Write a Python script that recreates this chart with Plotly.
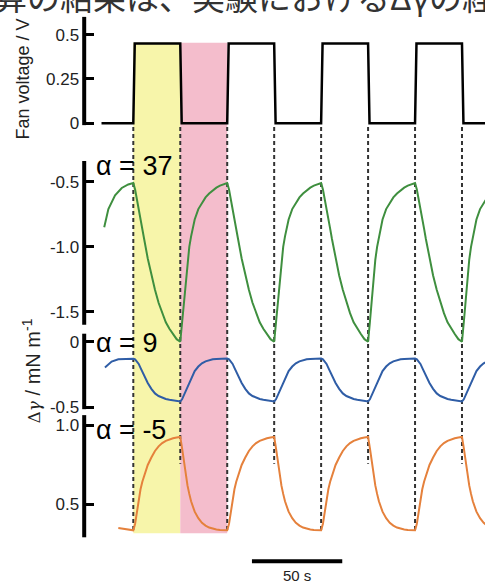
import plotly.graph_objects as go

W, H = 485, 584

# ---------------- data (time in s) ----------------
fan_t = [-17.6, 0, 0.8, 26, 26.8, 52, 52.8, 78, 78.8, 104, 104.8, 130, 130.8,
         156, 156.8, 182, 182.8, 196]
fan_v = [0, 0, 0.45, 0.45, 0, 0, 0.45, 0.45, 0, 0, 0.45, 0.45, 0, 0, 0.45, 0.45, 0, 0]

on_edges = [0, 52, 104, 156]
off_edges = [26, 78, 130, 182]

t_main = [0, 1, 2, 3, 4, 5, 6, 8, 10, 12, 14, 16, 18, 20, 22, 24,
          26, 27, 28, 29, 30, 31, 32, 34, 36, 38, 40, 42, 44, 46, 48, 50,
          52, 53, 54, 55, 56, 57, 58, 60, 62, 64, 66, 68, 70, 72, 74, 76,
          78, 79, 80, 81, 82, 83, 84, 86, 88, 90, 92, 94, 96, 98, 100, 102,
          104, 105, 106, 107, 108, 109, 110, 112, 114, 116, 118, 120, 122, 124, 126, 128,
          130, 131, 132, 133, 134, 135, 136, 138, 140, 142, 144, 146, 148, 150, 152, 154,
          156, 157, 158, 159, 160, 161, 162, 164, 166, 168, 170, 172, 174, 176, 178, 180,
          182, 183, 184, 185, 186, 187, 188, 190, 192, 194, 196]

# alpha = 37 (green)
g_lead_t = [-16.1, -13.8, -10.1, -6.4, -2.8]
g_lead_v = [-0.85, -0.71, -0.605, -0.548, -0.521]
g_main = [-0.51, -0.56, -0.63, -0.70, -0.78, -0.86, -0.94, -1.09, -1.22, -1.33, -1.43, -1.51, -1.58, -1.63, -1.67, -1.71,
          -1.73, -1.58, -1.40, -1.24, -1.10, -1.00, -0.92, -0.79, -0.71, -0.66, -0.62, -0.59, -0.565, -0.545, -0.53, -0.52,
          -0.51, -0.56, -0.63, -0.70, -0.78, -0.86, -0.94, -1.09, -1.22, -1.33, -1.43, -1.51, -1.58, -1.63, -1.67, -1.71,
          -1.73, -1.58, -1.40, -1.24, -1.10, -1.00, -0.92, -0.79, -0.71, -0.66, -0.62, -0.59, -0.565, -0.545, -0.53, -0.52,
          -0.51, -0.56, -0.63, -0.70, -0.78, -0.86, -0.94, -1.09, -1.22, -1.33, -1.43, -1.51, -1.58, -1.63, -1.67, -1.71,
          -1.73, -1.58, -1.40, -1.24, -1.10, -1.00, -0.92, -0.79, -0.71, -0.66, -0.62, -0.59, -0.565, -0.545, -0.53, -0.52,
          -0.51, -0.56, -0.63, -0.70, -0.78, -0.86, -0.94, -1.09, -1.22, -1.33, -1.43, -1.51, -1.58, -1.63, -1.67, -1.71,
          -1.73, -1.58, -1.40, -1.24, -1.10, -1.00, -0.92, -0.79, -0.71, -0.66, -0.62]

# alpha = 9 (blue)
b_lead_t = [-15.7, -12.0, -8.3, -3.7]
b_lead_v = [-0.197, -0.152, -0.134, -0.129]
b_main = [-0.13, -0.135, -0.15, -0.17, -0.20, -0.23, -0.26, -0.315, -0.36, -0.395, -0.415, -0.428, -0.437, -0.443, -0.447, -0.451,
          -0.456, -0.44, -0.41, -0.38, -0.345, -0.31, -0.28, -0.225, -0.19, -0.165, -0.15, -0.14, -0.135, -0.132, -0.13, -0.129,
          -0.128, -0.135, -0.15, -0.17, -0.20, -0.23, -0.26, -0.315, -0.36, -0.395, -0.415, -0.428, -0.437, -0.443, -0.447, -0.451,
          -0.456, -0.44, -0.41, -0.38, -0.345, -0.31, -0.28, -0.225, -0.19, -0.165, -0.15, -0.14, -0.135, -0.132, -0.13, -0.129,
          -0.128, -0.135, -0.15, -0.17, -0.20, -0.23, -0.26, -0.315, -0.36, -0.395, -0.415, -0.428, -0.437, -0.443, -0.447, -0.451,
          -0.456, -0.44, -0.41, -0.38, -0.345, -0.31, -0.28, -0.225, -0.19, -0.165, -0.15, -0.14, -0.135, -0.132, -0.13, -0.129,
          -0.128, -0.135, -0.15, -0.17, -0.20, -0.23, -0.26, -0.315, -0.36, -0.395, -0.415, -0.428, -0.437, -0.443, -0.447, -0.451,
          -0.456, -0.44, -0.41, -0.38, -0.345, -0.31, -0.28, -0.225, -0.19, -0.165, -0.15]

# alpha = -5 (orange)
o_lead_t = [-8.3, -4.0]
o_lead_v = [0.352, 0.345]
o_main = [0.338, 0.379, 0.455, 0.531, 0.596, 0.643, 0.684, 0.749, 0.796, 0.837, 0.866, 0.887, 0.901, 0.910, 0.917, 0.922,
          0.925, 0.855, 0.766, 0.690, 0.620, 0.567, 0.520, 0.455, 0.414, 0.385, 0.367, 0.355, 0.348, 0.343, 0.340, 0.339,
          0.338, 0.379, 0.455, 0.531, 0.596, 0.643, 0.684, 0.749, 0.796, 0.837, 0.866, 0.887, 0.901, 0.910, 0.917, 0.922,
          0.925, 0.855, 0.766, 0.690, 0.620, 0.567, 0.520, 0.455, 0.414, 0.385, 0.367, 0.355, 0.348, 0.343, 0.340, 0.339,
          0.338, 0.379, 0.455, 0.531, 0.596, 0.643, 0.684, 0.749, 0.796, 0.837, 0.866, 0.887, 0.901, 0.910, 0.917, 0.922,
          0.925, 0.855, 0.766, 0.690, 0.620, 0.567, 0.520, 0.455, 0.414, 0.385, 0.367, 0.355, 0.348, 0.343, 0.340, 0.339,
          0.338, 0.379, 0.455, 0.531, 0.596, 0.643, 0.684, 0.749, 0.796, 0.837, 0.866, 0.887, 0.901, 0.910, 0.917, 0.922,
          0.925, 0.855, 0.766, 0.690, 0.620, 0.567, 0.520, 0.455, 0.414, 0.385, 0.367]

fan_ticks = [0, 0.25, 0.5]
fan_ticktext = ["0", "0.25", "0.5"]
g_ticks = [-1.5, -1.0, -0.5]
g_ticktext = ["-1.5", "-1.0", "-0.5"]
b_ticks = [-0.5, 0]
b_ticktext = ["-0.5", "0"]
o_ticks = [0.5, 1.0]
o_ticktext = ["0.5", "1.0"]

alpha_labels = ["α = 37", "α = 9", "α = -5"]
scale_len = 50
scale_start = 65.7

# ---------------- layout geometry (pixels) ----------------
X0_PX, PX_PER_S = 133.3, 1.806
SPINE_X = 84.2
FONT = "Liberation Sans, Arial, sans-serif"


def py(p):
    return 1 - p / H


def axis(dom_top, dom_bot, p1, v1, p2, v2, ticks, text):
    k = (v2 - v1) / (p2 - p1)
    return dict(domain=[py(dom_bot), py(dom_top)],
                range=[v1 + (dom_bot - p1) * k, v1 + (dom_top - p1) * k],
                anchor="free", position=SPINE_X / W, side="left",
                showline=False, showgrid=False, zeroline=False,
                ticks="inside", ticklen=9, tickwidth=3, tickcolor="black",
                ticklabelstandoff=5,
                tickvals=ticks, ticktext=text,
                tickfont=dict(family=FONT, size=17, color="#222"))


fig = go.Figure()
fig.add_trace(go.Scatter(x=fan_t, y=fan_v, mode="lines", yaxis="y",
                         line=dict(color="black", width=2.5)))
fig.add_trace(go.Scatter(x=g_lead_t + t_main, y=g_lead_v + g_main, mode="lines", yaxis="y2",
                         line=dict(color="#3f8f3f", width=2)))
fig.add_trace(go.Scatter(x=b_lead_t + t_main, y=b_lead_v + b_main, mode="lines", yaxis="y3",
                         line=dict(color="#2f5da6", width=2)))
fig.add_trace(go.Scatter(x=o_lead_t + t_main, y=o_lead_v + o_main, mode="lines", yaxis="y4",
                         line=dict(color="#e5813c", width=2)))

shapes = []
# shaded on / off intervals
shapes.append(dict(type="rect", xref="x", yref="paper", x0=on_edges[0], x1=off_edges[0],
                   y0=py(537), y1=py(43), fillcolor="#f7f5aa", line_width=0, layer="below"))
shapes.append(dict(type="rect", xref="x", yref="paper", x0=off_edges[0], x1=on_edges[1],
                   y0=py(537), y1=py(43), fillcolor="#f4bdcc", line_width=0, layer="below"))
for t in on_edges:
    shapes.append(dict(type="line", xref="x", yref="paper", x0=t, x1=t, y0=py(128), y1=py(535),
                       line=dict(color="#333", width=2, dash="4px,3px"), layer="below"))
for t in off_edges:
    shapes.append(dict(type="line", xref="x", yref="paper", x0=t, x1=t, y0=py(128), y1=py(467),
                       line=dict(color="#333", width=2, dash="4px,3px"), layer="below"))
# axis spines
for top, bot in [(17, 126), (162, 327), (336, 412), (418, 541)]:
    shapes.append(dict(type="line", xref="paper", yref="paper", x0=SPINE_X / W, x1=SPINE_X / W,
                       y0=py(bot), y1=py(top), line=dict(color="black", width=4)))
# scale bar
shapes.append(dict(type="line", xref="x", yref="paper", x0=scale_start, x1=scale_start + scale_len,
                   y0=py(565), y1=py(565), line=dict(color="black", width=4)))

annotations = []
for lab, yc in zip(alpha_labels, [167, 345, 433]):
    annotations.append(dict(text=lab, xref="paper", yref="paper", x=94 / W, y=py(yc),
                            xanchor="left", yanchor="middle", showarrow=False,
                            font=dict(family=FONT, size=27, color="black")))
annotations.append(dict(text="Fan voltage / V", xref="paper", yref="paper", x=23 / W, y=py(80),
                        textangle=-90, xanchor="center", yanchor="middle", showarrow=False,
                        font=dict(family=FONT, size=18, color="#222")))
annotations.append(dict(text="<span style='font-family:DejaVu Serif;font-size:17px'>Δ<i>γ</i></span> / mN m<sup>-1</sup>",
                        xref="paper", yref="paper", x=31 / W, y=py(373),
                        textangle=-90, xanchor="center", yanchor="middle", showarrow=False,
                        font=dict(family=FONT, size=20, color="#222")))
annotations.append(dict(text=f"{scale_len} s", xref="x", yref="paper", x=scale_start + scale_len / 2,
                        y=py(579), xanchor="center", yanchor="middle", showarrow=False,
                        font=dict(family=FONT, size=15, color="#222")))
annotations.append(dict(text="算の結果は、実験におけるΔγの経", xref="paper", yref="paper", x=-8 / W, y=py(22),
                        xanchor="left", yanchor="bottom", showarrow=False,
                        font=dict(family="Noto Sans CJK JP", size=33, color="#333")))

fig.update_layout(
    width=W, height=H, margin=dict(l=0, r=0, t=0, b=0),
    paper_bgcolor="white", plot_bgcolor="rgba(0,0,0,0)", showlegend=False,
    xaxis=dict(domain=[0, 1], range=[-X0_PX / PX_PER_S, (W - X0_PX) / PX_PER_S], visible=False),
    yaxis=axis(10, 130, 124, 0, 35, 0.5, fan_ticks, fan_ticktext),
    yaxis2=axis(150, 360, 183, -0.5, 314, -1.5, g_ticks, g_ticktext),
    yaxis3=axis(330, 420, 344, 0, 410, -0.5, b_ticks, b_ticktext),
    yaxis4=axis(415, 550, 428, 1.0, 508, 0.5, o_ticks, o_ticktext),
    shapes=shapes, annotations=annotations,
)

fig.write_html("out.html", config={"displayModeBar": False},
               post_script="document.body.style.margin='0';document.body.style.overflow='hidden';")
